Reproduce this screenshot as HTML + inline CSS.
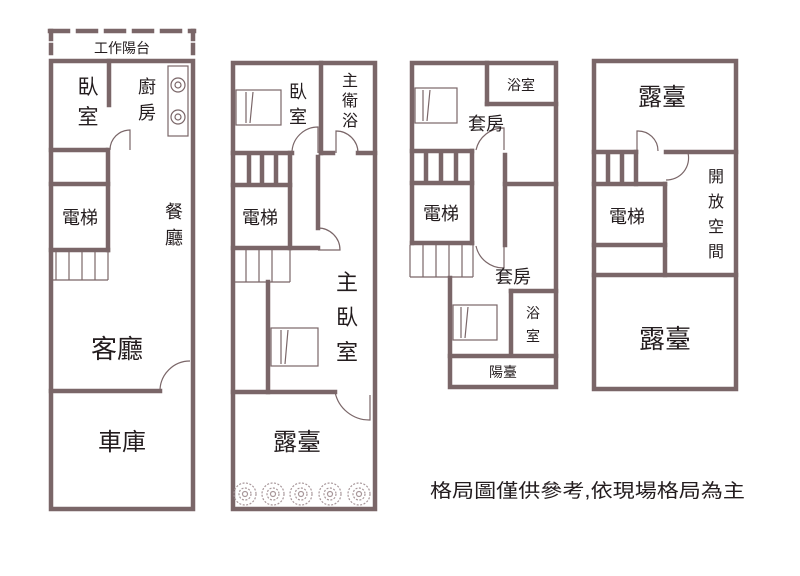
<!DOCTYPE html>
<html><head><meta charset="utf-8"><style>
html,body{margin:0;padding:0;background:#fff;}
svg{display:block;}
text{font-family:"Liberation Sans","Noto Sans CJK TC",sans-serif;fill:#231c1e;}
</style></head><body>
<svg width="800" height="576" viewBox="0 0 800 576" xmlns="http://www.w3.org/2000/svg">
<g stroke="#7a6668" stroke-width="4.5" fill="none" stroke-linecap="square">
<line x1="50" y1="31" x2="194" y2="31" stroke-dasharray="18,10"/>
<line x1="51" y1="31" x2="51" y2="58" stroke-dasharray="8,6"/>
<line x1="193" y1="31" x2="193" y2="58" stroke-dasharray="8,6"/>
<rect x="51" y="61" width="142" height="448"/>
<line x1="109" y1="61" x2="109" y2="105"/>
<line x1="51" y1="150" x2="106" y2="150"/>
<line x1="108" y1="150" x2="108" y2="250"/>
<line x1="51" y1="184" x2="108" y2="184"/>
<line x1="51" y1="250" x2="108" y2="250"/>
<line x1="51" y1="391" x2="160" y2="391"/>
</g>
<g stroke="#7a6668" stroke-width="1.2" fill="none">
<rect x="168" y="66" width="20" height="70"/>
<circle cx="178" cy="85" r="7"/><circle cx="178" cy="85" r="3"/>
<circle cx="178" cy="117" r="7"/><circle cx="178" cy="117" r="3"/>
<path d="M110 150 A20 20 0 0 1 130 130 L130 150"/>
<line x1="56" y1="250" x2="56" y2="280"/><line x1="69" y1="250" x2="69" y2="280"/><line x1="82" y1="250" x2="82" y2="280"/><line x1="95" y1="250" x2="95" y2="280"/>
<line x1="51" y1="280" x2="108" y2="280"/><line x1="108" y1="250" x2="108" y2="280"/>
<path d="M160 391 A30 30 0 0 1 190 361"/>
</g>
<g stroke="#7a6668" stroke-width="4.5" fill="none" stroke-linecap="square">
<rect x="233" y="63" width="142" height="446"/>
<line x1="321" y1="63" x2="321" y2="153"/>
<line x1="233" y1="153" x2="292" y2="153"/>
<line x1="321" y1="153" x2="333" y2="153"/>
<line x1="358" y1="153" x2="375" y2="153"/>
<line x1="290" y1="153" x2="290" y2="248"/>
<line x1="233" y1="185" x2="290" y2="185"/>
<line x1="249" y1="155" x2="249" y2="184"/><line x1="262" y1="155" x2="262" y2="184"/><line x1="276" y1="155" x2="276" y2="184"/>
<line x1="318" y1="157" x2="318" y2="228"/>
<line x1="233" y1="248" x2="318" y2="248"/>
<line x1="268" y1="282" x2="268" y2="392"/>
<line x1="233" y1="392" x2="335" y2="392"/>
</g>
<g stroke="#7a6668" stroke-width="1.2" fill="none">
<rect x="236" y="90" width="45" height="35"/><path d="M246 92 L246 123 M253 92 L250 123"/>
<path d="M292 153 A26 26 0 0 1 318 127 L318 153"/>
<path d="M358 153 A22 22 0 0 0 336 131 L336 153"/>
<path d="M318 250 L340 250 A22 22 0 0 0 318 228"/>
<line x1="233" y1="282" x2="290" y2="282"/><line x1="290" y1="248" x2="290" y2="282"/>
<line x1="246" y1="250" x2="246" y2="282"/><line x1="259" y1="250" x2="259" y2="282"/><line x1="272" y1="250" x2="272" y2="282"/>
<rect x="271" y="328" width="47" height="38"/><path d="M281 330 L281 364 M288 330 L285 364"/>
<path d="M335 392 A35 35 0 0 0 370 420 L370 395"/>
<g stroke="#a8979a">
<circle cx="245" cy="494" r="11" stroke-dasharray="2,1.5"/><circle cx="245" cy="494" r="6" stroke-dasharray="2,1.5"/><circle cx="245" cy="494" r="2.5"/>
<circle cx="273" cy="494" r="11" stroke-dasharray="2,1.5"/><circle cx="273" cy="494" r="6" stroke-dasharray="2,1.5"/><circle cx="273" cy="494" r="2.5"/>
<circle cx="301" cy="494" r="11" stroke-dasharray="2,1.5"/><circle cx="301" cy="494" r="6" stroke-dasharray="2,1.5"/><circle cx="301" cy="494" r="2.5"/>
<circle cx="330" cy="494" r="11" stroke-dasharray="2,1.5"/><circle cx="330" cy="494" r="6" stroke-dasharray="2,1.5"/><circle cx="330" cy="494" r="2.5"/>
<circle cx="359" cy="494" r="11" stroke-dasharray="2,1.5"/><circle cx="359" cy="494" r="6" stroke-dasharray="2,1.5"/><circle cx="359" cy="494" r="2.5"/>
</g>
</g>
<g stroke="#7a6668" stroke-width="4.5" fill="none" stroke-linecap="square">
<path d="M412 243 L412 63 L556 63 L556 387 L450 387 L450 278"/>
<line x1="487" y1="63" x2="487" y2="104"/>
<line x1="487" y1="104" x2="556" y2="104"/>
<line x1="412" y1="151" x2="472" y2="151"/>
<line x1="472" y1="151" x2="472" y2="243"/>
<line x1="412" y1="183" x2="472" y2="183"/>
<line x1="412" y1="243" x2="472" y2="243"/>
<line x1="426" y1="153" x2="426" y2="182"/><line x1="441" y1="153" x2="441" y2="182"/><line x1="456" y1="153" x2="456" y2="182"/>
<line x1="505" y1="155" x2="505" y2="245"/>
<line x1="505" y1="184" x2="556" y2="184"/>
<line x1="511" y1="291" x2="556" y2="291"/>
<line x1="511" y1="291" x2="511" y2="355"/>
<line x1="450" y1="356" x2="556" y2="356"/>
</g>
<g stroke="#7a6668" stroke-width="1.2" fill="none">
<rect x="415" y="88" width="42" height="35"/><path d="M423 90 L423 121 M430 90 L427 121"/>
<path d="M476 150 A28 28 0 0 1 504 128 L504 150"/>
<path d="M476 246 A28 28 0 0 0 504 268 L504 246"/>
<line x1="410" y1="277" x2="473" y2="277"/><line x1="410" y1="245" x2="410" y2="277"/><line x1="473" y1="245" x2="473" y2="277"/>
<line x1="423" y1="245" x2="423" y2="277"/><line x1="436" y1="245" x2="436" y2="277"/><line x1="449" y1="245" x2="449" y2="277"/><line x1="462" y1="245" x2="462" y2="277"/>
<rect x="453" y="305" width="44" height="35"/><path d="M461 307 L461 338 M468 307 L465 338"/>
</g>
<g stroke="#7a6668" stroke-width="4.5" fill="none" stroke-linecap="square">
<rect x="594" y="61" width="142" height="328"/>
<line x1="594" y1="152" x2="636" y2="152"/>
<line x1="666" y1="152" x2="736" y2="152"/>
<line x1="608" y1="154" x2="608" y2="183"/><line x1="622" y1="154" x2="622" y2="183"/>
<line x1="636" y1="152" x2="636" y2="184"/>
<line x1="594" y1="184" x2="665" y2="184"/>
<line x1="665" y1="184" x2="665" y2="275"/>
<line x1="594" y1="245" x2="665" y2="245"/>
<line x1="594" y1="275" x2="736" y2="275"/>
</g>
<g stroke="#7a6668" stroke-width="1.2" fill="none">
<path d="M637 151 L637 131 A20 20 0 0 1 658 151"/>
<path d="M666 153 L688 153 A22 22 0 0 1 666 180"/>
</g>
<text x="122" y="53" font-size="14" text-anchor="middle">工作陽台</text>
<text x="88" y="94" font-size="21" text-anchor="middle">臥</text>
<text x="88" y="124" font-size="21" text-anchor="middle">室</text>
<text x="147" y="93" font-size="18" text-anchor="middle">廚</text>
<text x="147" y="119" font-size="18" text-anchor="middle">房</text>
<text x="80" y="224" font-size="18" text-anchor="middle">電梯</text>
<text x="174" y="218" font-size="18" text-anchor="middle">餐</text>
<text x="174" y="244" font-size="18" text-anchor="middle">廳</text>
<text x="117" y="358" font-size="26" text-anchor="middle">客廳</text>
<text x="122" y="450" font-size="24" text-anchor="middle">車庫</text>
<text x="298" y="98" font-size="18" text-anchor="middle">臥</text>
<text x="298" y="123" font-size="18" text-anchor="middle">室</text>
<text x="350" y="86" font-size="16" text-anchor="middle">主</text>
<text x="350" y="106" font-size="16" text-anchor="middle">衛</text>
<text x="350" y="126" font-size="16" text-anchor="middle">浴</text>
<text x="260" y="224" font-size="18" text-anchor="middle">電梯</text>
<text x="347" y="290" font-size="22" text-anchor="middle">主</text>
<text x="347" y="325" font-size="22" text-anchor="middle">臥</text>
<text x="347" y="360" font-size="22" text-anchor="middle">室</text>
<text x="297" y="450" font-size="24" text-anchor="middle">露臺</text>
<text x="521" y="90" font-size="14" text-anchor="middle">浴室</text>
<text x="486" y="130" font-size="18" text-anchor="middle">套房</text>
<text x="441" y="220" font-size="18" text-anchor="middle">電梯</text>
<text x="513" y="283" font-size="18" text-anchor="middle">套房</text>
<text x="533" y="318" font-size="14" text-anchor="middle">浴</text>
<text x="533" y="341" font-size="14" text-anchor="middle">室</text>
<text x="503" y="377" font-size="14" text-anchor="middle">陽臺</text>
<text x="662" y="105" font-size="24" text-anchor="middle">露臺</text>
<text x="627" y="223" font-size="18" text-anchor="middle">電梯</text>
<text x="716" y="182" font-size="16" text-anchor="middle">開</text>
<text x="716" y="207" font-size="16" text-anchor="middle">放</text>
<text x="716" y="232" font-size="16" text-anchor="middle">空</text>
<text x="716" y="257" font-size="16" text-anchor="middle">間</text>
<text x="665" y="348" font-size="26" text-anchor="middle">露臺</text>
<text x="430" y="497" font-size="19" textLength="315" lengthAdjust="spacingAndGlyphs">格局圖僅供參考,依現場格局為主</text>
</svg>
</body></html>
